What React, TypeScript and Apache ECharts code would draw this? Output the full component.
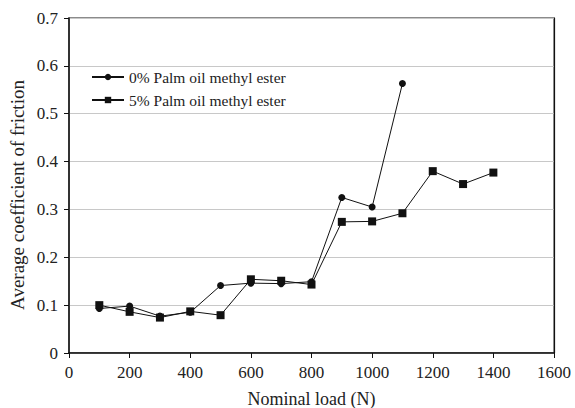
import React, { useEffect, useRef } from "react";
import * as echarts from "echarts";

const loads0 = [100, 200, 300, 400, 500, 600, 700, 800, 900, 1000, 1100];
const cof0 = [0.093, 0.098, 0.077, 0.085, 0.141, 0.146, 0.145, 0.149, 0.325, 0.305, 0.563];
const loads5 = [100, 200, 300, 400, 500, 600, 700, 800, 900, 1000, 1100, 1200, 1300, 1400];
const cof5 = [0.1, 0.086, 0.074, 0.087, 0.079, 0.154, 0.151, 0.143, 0.274, 0.275, 0.292, 0.38, 0.353, 0.377];
const seriesNames = ["0% Palm oil methyl ester", "5% Palm oil methyl ester"];
const xTitle = "Nominal load (N)";
const yTitle = "Average coefficient of friction";

export default function App() {
  const ref = useRef<HTMLDivElement>(null);
  useEffect(() => {
    if (!ref.current) return;
    const chart = echarts.init(ref.current, null, { renderer: "svg" });
    const font = "'Liberation Serif', serif";
    chart.setOption({
      animation: false,
      backgroundColor: "#fff",
      textStyle: { fontFamily: font },
      grid: {
        left: 69,
        right: 21,
        top: 18,
        bottom: 55,
        outerBoundsMode: "none",
        containLabel: false,
        show: true,
        borderColor: "#666",
        borderWidth: 1.3,
      },
      legend: {
        left: 91,
        top: 69,
        padding: 0,
        orient: "vertical",
        itemGap: 7,
        itemWidth: 32,
        itemHeight: 8,
        textStyle: { fontFamily: font, fontSize: 15.5, color: "#222" },
        data: seriesNames,
      },
      graphic: [
        {
          type: "text",
          x: 17,
          y: 195,
          rotation: Math.PI / 2,
          style: {
            text: yTitle,
            fontFamily: font,
            fontSize: 19,
            fill: "#222",
            align: "center",
            verticalAlign: "middle",
          },
        },
      ],
      xAxis: {
        type: "value",
        min: 0,
        max: 1600,
        interval: 200,
        name: xTitle,
        nameLocation: "middle",
        nameGap: 37,
        nameTextStyle: { fontFamily: font, fontSize: 18, color: "#222" },
        axisLine: { lineStyle: { color: "#111", width: 1.5 } },
        axisTick: { show: true, length: 5, lineStyle: { color: "#111" } },
        axisLabel: { fontFamily: font, fontSize: 17, color: "#222", margin: 11, formatter: (v: number) => String(v) },
        splitLine: { show: false },
      },
      yAxis: [
        {
          type: "value",
          min: 0,
          max: 0.7,
          interval: 0.1,
          axisLine: { show: true, lineStyle: { color: "#111", width: 1.5 } },
          axisTick: { show: true, length: 5, lineStyle: { color: "#111" } },
          axisLabel: { fontFamily: font, fontSize: 17, color: "#222", margin: 11 },
          splitLine: { show: true, lineStyle: { color: "#c8c8c8", width: 1 } },
        },
        {
          type: "value",
          position: "right",
          min: 0,
          max: 0.7,
          interval: 0.1,
          axisLine: { show: true, lineStyle: { color: "#111", width: 1.2 } },
          axisTick: { show: false },
          axisLabel: { show: false },
          splitLine: { show: false },
        },
      ],
      series: [
        {
          name: seriesNames[0],
          type: "line",
          data: loads0.map((x, i) => [x, cof0[i]]),
          symbol: "circle",
          symbolSize: 7,
          lineStyle: { color: "#111", width: 1 },
          itemStyle: { color: "#111" },
        },
        {
          name: seriesNames[1],
          type: "line",
          data: loads5.map((x, i) => [x, cof5[i]]),
          symbol: "rect",
          symbolSize: 8,
          lineStyle: { color: "#111", width: 1 },
          itemStyle: { color: "#111" },
        },
      ],
    });
    return () => chart.dispose();
  }, []);
  return <div ref={ref} style={{ width: 575, height: 408, position: "absolute", left: 0, top: 0 }} />;
}
